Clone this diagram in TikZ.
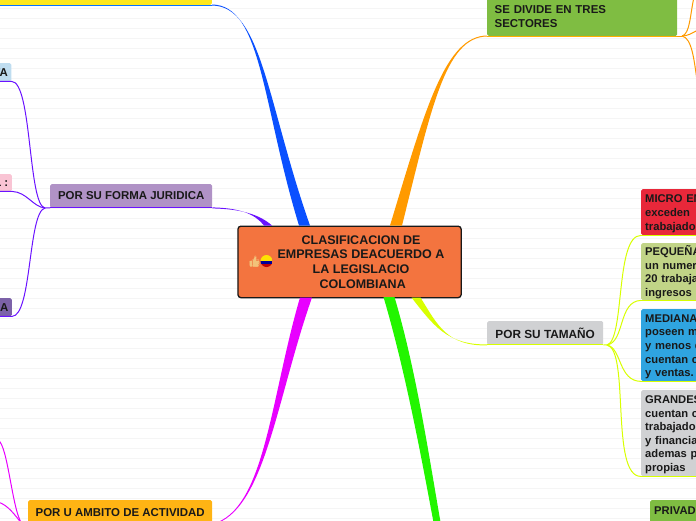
\documentclass[tikz,border=0pt]{standalone}
\usepackage{fontspec}
\setmainfont{Liberation Sans}
\newfontfamily\emojifont{Noto Emoji}
\usetikzlibrary{calc}
\definecolor{cNaranja}{HTML}{F3743F}
\definecolor{cAzul}{HTML}{0A50FF}
\definecolor{cAmbar}{HTML}{FF9A00}
\definecolor{cVioleta}{HTML}{6A12FF}
\definecolor{cMagenta}{HTML}{E800FF}
\definecolor{cVerde}{HTML}{22F500}
\definecolor{cLima}{HTML}{D8FF00}
\definecolor{cHoja}{HTML}{7FBD42}
\definecolor{cAmarillo}{HTML}{FFE81C}
\definecolor{cLila}{HTML}{B092C6}
\definecolor{cOro}{HTML}{FFB414}
\definecolor{cGris}{HTML}{D0D1D3}
\definecolor{cCeleste}{HTML}{BFDDF0}
\definecolor{cRosa}{HTML}{F9C4D4}
\definecolor{cMorado}{HTML}{7C62A8}
\definecolor{cRojo}{HTML}{E8283A}
\definecolor{cOliva}{HTML}{C1D487}
\definecolor{cCielo}{HTML}{2FA4E0}
\definecolor{cPulgar}{HTML}{F2C27A}
\tikzset{
    rama/.style={rectangle, rounded corners=1.5pt, inner xsep=7.5pt, inner ysep=0pt, align=left,
        text=black!90, font=\bfseries\fontsize{11.45}{13.6}\selectfont},
    hoja/.style={rama, inner xsep=4pt, anchor=north west, text width=110pt, minimum width=118pt,
        font=\bfseries\fontsize{11.2}{13.6}\selectfont, execute at begin node={\rule{0pt}{11pt}}},
    corte/.style={rama, inner xsep=3.5pt, anchor=north east, align=right},
    hilo/.style={line width=1pt},
}
% rama gruesa: color, inicio, control, control, fin, media anchura
\newcommand{\limb}[6]{
    \fill[#1] ($(#2)+(0,-0.5)$) .. controls #3 and #4 .. ($(#5)+(-#6,0)$) -- ($(#5)+(#6,0)$)
        .. controls ($#4+(#6,0)$) and ($#3+(0,1)$) .. ($(#2)+(0,0.5)$) -- cycle;
}
\begin{document}
\begin{tikzpicture}[x=1pt, y=-1pt]
    \useasboundingbox (0,0) rectangle (696,520);
    \clip (0,0) rectangle (696,520);

    % 1. Fondo rayado
    \foreach \y in {8,18,...,518}
        \draw[black!4, line width=0.7pt] (0,\y) -- (696,\y);

    % 2. Nodos
    \node[rectangle, rounded corners=3pt, draw=black!90, line width=1.3pt, fill=cNaranja, anchor=north west,
        minimum width=223.2pt, minimum height=71.5pt] (root) at (237.3,225.5) {};
    \node[align=center, text=black!90, font=\bfseries\fontsize{12.5}{14.7}\selectfont] (titulo) at (361,262)
        {CLASIFICACION DE\\EMPRESAS DEACUERDO A\\LA LEGISLACIO\\\ COLOMBIANA};
    \fill[cPulgar] (250,261) rectangle (252,266.5) (252.8,261) -- (255,256.5) -- (256,257) -- (255.8,260.5) -- (259,261) -- (258,266.5) -- (252.8,266.5) -- cycle;
    \node[text=cPulgar, font=\emojifont\fontsize{11}{11}\selectfont, inner sep=0pt] (pulgar) at (254.5,262) {👍};

    \node[rama, fill=cAmarillo, anchor=south east, minimum width=240pt, minimum height=24pt] (empresas) at (212,5) {};
    \node[rama, fill=cLila, anchor=north west, minimum width=162pt, minimum height=23.5pt] (forma) at (50,184) {POR SU FORMA JURIDICA};
    \node[rama, fill=cOro, anchor=north west, minimum width=184pt, minimum height=24pt] (ambito) at (28,500) {POR U AMBITO DE ACTIVIDAD};
    \node[rama, fill=cHoja, anchor=south west, minimum width=190pt, minimum height=38pt, text width=175pt] (sectores) at (487,36) {SE DIVIDE EN TRES\\SECTORES};
    \node[rama, fill=cGris, anchor=north west, minimum width=116pt, minimum height=23.5pt, font=\bfseries\fontsize{11.8}{13.6}\selectfont] (tamano) at (487,321) {POR SU TAMAÑO};

    \node[corte, fill=cCeleste, minimum height=18pt] (limitada) at (11.5,63) {TA};
    \node[corte, fill=cRosa, minimum height=17pt] (colectiva) at (12,174) {L :};
    \node[corte, fill=cMorado, minimum height=18pt] (anonima) at (12,298) {A};

    \node[hoja, fill=cRojo, minimum height=46pt] (micro) at (641,189) {MICRO EM\\exceden\\trabajado};
    \node[hoja, fill=cOliva, minimum height=57pt] (pequena) at (641,243) {PEQUEÑA\\un numero\\20 trabaja\\ingresos r};
    \node[hoja, fill=cCielo, minimum height=72pt] (mediana) at (641,309) {MEDIANA\\poseen m\\y menos d\\cuentan c\\y ventas.};
    \node[hoja, fill=cGris, minimum height=86pt] (grandes) at (641,390) {GRANDES\\cuentan c\\trabajado\\y financia\\ademas p\\propias};
    \node[hoja, fill=cHoja, inner ysep=3pt] (privada) at (650,500) {PRIVAD\\~\\~};

    % 3. Puntos de union
    \coordinate (nudoForma) at (45,208);
    \coordinate (nudoAmbito) at (22,524);
    \coordinate (nudoSectores) at (682,36);
    \coordinate (nudoTamano) at (607,345);

    % 4. Ramas gruesas
    \limb{cAzul}{empresas.south east}{(262,5)}{(262,105)}{304.5,225.5}{5.5}
    \limb{cVioleta}{forma.south east}{(240,208)}{(255,214)}{268,225.5}{4}
    \limb{cAmbar}{sectores.south west}{(445,36)}{(425,110)}{396,225.5}{6}
    \limb{cMagenta}{ambito.south east}{(265,510)}{(270,400)}{306,297.5}{6}
    \limb{cLima}{tamano.south west}{(447,345)}{(433,325)}{416,297.5}{4.5}
    \fill[cVerde] (389,297) -- (383.5,297) .. controls (405,370) and (420,450) .. (434,525) -- (441,525)
        .. controls (428,450) and (416,370) .. (394.5,297) -- cycle;

    % 5. Lineas bajo los nodos
    \draw[cAzul!80!cyan, hilo] (empresas.south west) -- (empresas.south east);
    \draw[cVioleta, hilo] (forma.south west) -- (forma.south east);
    \draw[cAmbar!80!yellow, hilo] (sectores.south west) -- (sectores.south east);
    \draw[cLima, hilo] (tamano.south west) -- (tamano.south east);

    % 6. Ramas finas
    \draw[cVioleta, hilo] (nudoForma) -- (forma.south west);
    \draw[cVioleta, hilo] (nudoForma) .. controls (28,205) and (32,81) .. (limitada.south east) -- (limitada.south west);
    \draw[cVioleta, hilo] (nudoForma) .. controls (33,207) and (27,192) .. (colectiva.south east) -- (colectiva.south west);
    \draw[cVioleta, hilo] (nudoForma) .. controls (28,212) and (32,316) .. (anonima.south east) -- (anonima.south west);

    \draw[cMagenta, hilo] (nudoAmbito) .. controls (12,510) and (8,445) .. (-2,440);
    \draw[cMagenta, hilo] (nudoAmbito) .. controls (15,515) and (8,505) .. (-2,502);

    \draw[cAmbar, hilo] (nudoSectores) -- (sectores.south east);
    \draw[cAmbar, hilo] (nudoSectores) .. controls (690,34) and (690,15) .. (694,-3);
    \draw[cAmbar, hilo] (nudoSectores) .. controls (688,36) and (692,33) .. (698,30);
    \draw[cAmbar, hilo] (nudoSectores) .. controls (692,38) and (694,60) .. (697,80);

    \draw[cLima, hilo] (nudoTamano) -- (tamano.south east);
    \draw[cLima, hilo] (nudoTamano) .. controls (625,340) and (615,235) .. (micro.south west);
    \draw[cLima, hilo] (nudoTamano) .. controls (625,342) and (618,301) .. (pequena.south west);
    \draw[cLima, hilo] (nudoTamano) .. controls (622,348) and (618,381) .. (mediana.south west);
    \draw[cLima, hilo] (nudoTamano) .. controls (630,350) and (610,477) .. (grandes.south west);
    \foreach \n in {micro,pequena,mediana,grandes}
        \draw[cLima, hilo] (\n.south west) -- ++(60,0);

    % 7. Bandera
    \begin{scope}
        \clip (266.5,261) circle (6pt);
        \fill[yellow!85!orange] (260,254) rectangle (273,261);
        \fill[blue!60!black] (260,261) rectangle (273,264);
        \fill[red!75!black] (260,264) rectangle (273,268);
    \end{scope}
\end{tikzpicture}
\end{document}
